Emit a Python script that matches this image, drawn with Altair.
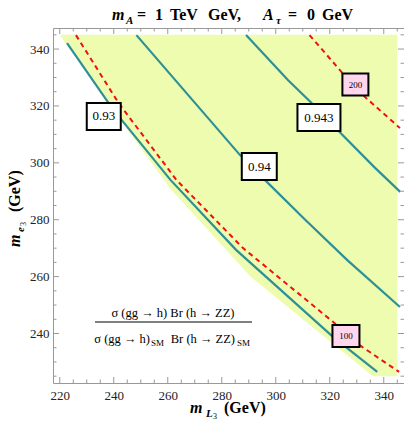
import altair as alt
import pandas as pd

# ---------------- data ----------------
# shaded (allowed) region: top edge at m_e3 = 345, lower-left boundary
fill_x = [220.0, 245.1, 261.3, 290.8, 336.0, 345.0]
fill_top = [345.0, 345.0, 345.0, 345.0, 345.0, 345.0]
fill_bottom = [345.0, 311.5, 290.5, 259.9, 225.0, 225.0]

# ratio contours (teal)
c093_x = [222.7, 238.1, 242.9, 261.0, 285.3, 321.2, 337.6]
c093_y = [342.1, 321.0, 315.1, 294.0, 269.4, 238.8, 226.5]
c094_x = [248.4, 286.7, 296.7, 311.0, 326.5, 346.0]
c094_y = [344.9, 302.8, 293.3, 279.9, 265.8, 249.3]
c0943_x = [289.0, 304.5, 312.9, 324.0, 336.5, 346.1]
c0943_y = [344.9, 329.1, 321.4, 310.5, 298.5, 289.8]

# stau-mass contours (red dashed)
m100_x = [226.0, 241.8, 263.2, 287.8, 321.2, 330.9, 345.7]
m100_y = [344.9, 321.0, 294.0, 270.1, 244.1, 236.0, 226.5]
m200_x = [312.5, 324.7, 333.1, 346.0]
m200_y = [344.9, 331.6, 323.1, 312.2]

# contour labels
lab_text = ["0.93", "0.94", "0.943", "100", "200"]
lab_x = [236.3, 293.9, 316.0, 326.0, 329.5]
lab_y = [316.3, 298.7, 315.9, 239.1, 327.5]
lab_kind = ["ratio", "ratio", "ratio", "mass", "mass"]

x_major = [220, 240, 260, 280, 300, 320, 340]
y_major = [240, 260, 280, 300, 320, 340]
x_minor = [v for v in range(220, 350, 5) if v % 20 != 0]
y_minor = [v for v in range(225, 350, 5) if v % 20 != 0]

# ---------------- styling ----------------
W, H = 351, 355
PADL, PADT, PADR, PADB = 45, 20, 0, 36
SERIF = "'Liberation Serif', 'Times New Roman', Times, 'DejaVu Serif', serif"
TEAL = "#2E9096"
RED = "#F01010"
FILL = "#EEFCB0"
PINK = "#FFD6EE"
FRAME = "#999999"

xs = alt.Scale(domain=[217.5, 347.5], nice=False, zero=False)
ys = alt.Scale(domain=[222.6, 347.4], nice=False, zero=False)
xaxis = alt.Axis(values=x_major, ticks=False, domain=False, grid=False, title=None,
                 labelFont=SERIF, labelFontSize=13, labelColor="#222", labelPadding=6)
yaxis = alt.Axis(values=y_major, ticks=False, domain=False, grid=False, title=None,
                 labelFont=SERIF, labelFontSize=13, labelColor="#222", labelPadding=4)

fill_df = pd.DataFrame({"x": fill_x, "top": fill_top, "bottom": fill_bottom})
fill = alt.Chart(fill_df).mark_area(color=FILL, opacity=1, interpolate="linear").encode(
    x=alt.X("x:Q", scale=xs, axis=xaxis),
    y=alt.Y("top:Q", scale=ys, axis=yaxis),
    y2="bottom:Q",
)


def line_df(pairs):
    rows = []
    for name, xv, yv in pairs:
        for i, (a, b) in enumerate(zip(xv, yv)):
            rows.append({"c": name, "i": i, "x": a, "y": b})
    return pd.DataFrame(rows)


teal_df = line_df([("0.93", c093_x, c093_y), ("0.94", c094_x, c094_y), ("0.943", c0943_x, c0943_y)])
red_df = line_df([("100", m100_x, m100_y), ("200", m200_x, m200_y)])

teal = alt.Chart(teal_df).mark_line(color=TEAL, strokeWidth=2.2).encode(
    x=alt.X("x:Q", scale=xs), y=alt.Y("y:Q", scale=ys), detail="c:N", order="i:Q")
red = alt.Chart(red_df).mark_line(color=RED, strokeWidth=2, strokeDash=[5, 4]).encode(
    x=alt.X("x:Q", scale=xs), y=alt.Y("y:Q", scale=ys), detail="c:N", order="i:Q")

lab_df = pd.DataFrame({"t": lab_text, "x": lab_x, "y": lab_y, "k": lab_kind})
box_w = {"0.93": 34, "0.94": 35, "0.943": 43, "100": 27, "200": 26}
layers_boxes = []
for t, k in zip(lab_text, lab_kind):
    w = box_w[t]
    h = 27 if k == "ratio" else 22
    sub = lab_df[lab_df.t == t]
    layers_boxes.append(
        alt.Chart(sub).mark_rect(
            fill="white" if k == "ratio" else PINK, stroke="black", strokeWidth=2,
            xOffset=-w / 2, x2Offset=w / 2, yOffset=-h / 2, y2Offset=h / 2,
        ).encode(x=alt.X("x:Q", scale=xs), x2="x:Q", y=alt.Y("y:Q", scale=ys), y2="y:Q")
    )
ratio_txt = alt.Chart(lab_df[lab_df.k == "ratio"]).mark_text(
    font=SERIF, fontSize=13, color="black", align="center", baseline="middle").encode(
    x=alt.X("x:Q", scale=xs), y=alt.Y("y:Q", scale=ys), text="t:N")
mass_txt = alt.Chart(lab_df[lab_df.k == "mass"]).mark_text(
    font=SERIF, fontSize=9, color="black", align="center", baseline="middle").encode(
    x=alt.X("x:Q", scale=xs), y=alt.Y("y:Q", scale=ys), text="t:N")

# ---------------- frame ticks (inward) ----------------
def xt(vals, ln):
    d = pd.DataFrame({"v": vals})
    b = alt.Chart(d).mark_rule(color=FRAME, strokeWidth=1).encode(
        x=alt.X("v:Q", scale=xs), y=alt.value(H), y2=alt.value(H - ln))
    t = alt.Chart(d).mark_rule(color=FRAME, strokeWidth=1).encode(
        x=alt.X("v:Q", scale=xs), y=alt.value(0), y2=alt.value(ln))
    return [b, t]


def yt(vals, ln):
    d = pd.DataFrame({"v": vals})
    l = alt.Chart(d).mark_rule(color=FRAME, strokeWidth=1).encode(
        y=alt.Y("v:Q", scale=ys), x=alt.value(0), x2=alt.value(ln))
    r = alt.Chart(d).mark_rule(color=FRAME, strokeWidth=1).encode(
        y=alt.Y("v:Q", scale=ys), x=alt.value(W), x2=alt.value(W - ln))
    return [l, r]


ticks = xt(x_major, 6) + xt(x_minor, 3.5) + yt(y_major, 6) + yt(y_minor, 3.5)

# ---------------- text annotations (pixel placed) ----------------
ox, oy = 8 + PADL, 8 + PADT  # page position of the plot origin


def txt(s, x, y, size, weight="normal", style="normal", angle=0, align="left"):
    return alt.Chart(pd.DataFrame({"s": [s]})).mark_text(
        font=SERIF, fontSize=size, fontWeight=weight, fontStyle=style, angle=angle,
        align=align, baseline="alphabetic", color="black").encode(
        text="s:N", x=alt.value(x - ox), y=alt.value(y - oy))


TB = 20  # title baseline (page px)
annot = [
    # title  (page coordinates)
    txt("m", 112, TB, 16, "bold", "italic"),
    txt("A", 126, TB + 4, 11, "bold", "italic"),
    txt("=", 137, TB, 16, "bold"),
    txt("1", 155, TB, 16, "bold"),
    txt("TeV", 170, TB, 16, "bold"),
    txt("GeV,", 208, TB, 16, "bold"),
    txt("A", 263, TB, 16, "bold", "italic"),
    txt("τ", 276, TB + 4, 11, "bold", "italic"),
    txt("=", 288, TB, 16, "bold"),
    txt("0", 307, TB, 16, "bold"),
    txt("GeV", 322, TB, 16, "bold"),
    # x title
    txt("m", 190, 413, 16, "bold", "italic"),
    txt("L", 206, 417, 11, "bold", "italic"),
    txt("3", 213, 419, 8),
    txt("(GeV)", 224, 413, 16, "bold"),
    # y title (rotated)
    txt("m", 20, 247, 16, "bold", "italic", angle=270),
    txt("e", 24, 232, 11, "bold", "italic", angle=270),
    txt("3", 26, 226, 8, angle=270),
    txt("(GeV)", 20, 212, 16, "bold", angle=270),
    # ratio formula
    txt("σ (gg → h) Br (h → ZZ)", 173, 317, 12.5, align="center"),
    txt("σ (gg → h)", 150, 343, 12.5, align="right"),
    txt("SM", 151, 346, 9),
    txt("Br (h → ZZ)", 235, 343, 12.5, align="right"),
    txt("SM", 237, 346, 9),
]
frac = alt.Chart(pd.DataFrame({"a": [0]})).mark_rule(color="black", strokeWidth=1).encode(
    x=alt.value(95 - ox), x2=alt.value(252 - ox), y=alt.value(322 - oy))

chart = alt.layer(fill, teal, red, *layers_boxes, ratio_txt, mass_txt, *ticks, *annot, frac).properties(
    width=W, height=H,
    autosize=alt.AutoSizeParams(type="none"),
    padding={"left": PADL, "top": PADT, "right": PADR, "bottom": PADB},
).configure_view(stroke=FRAME, strokeWidth=1)

chart.save("out.html", embed_options={"renderer": "svg", "actions": False})
